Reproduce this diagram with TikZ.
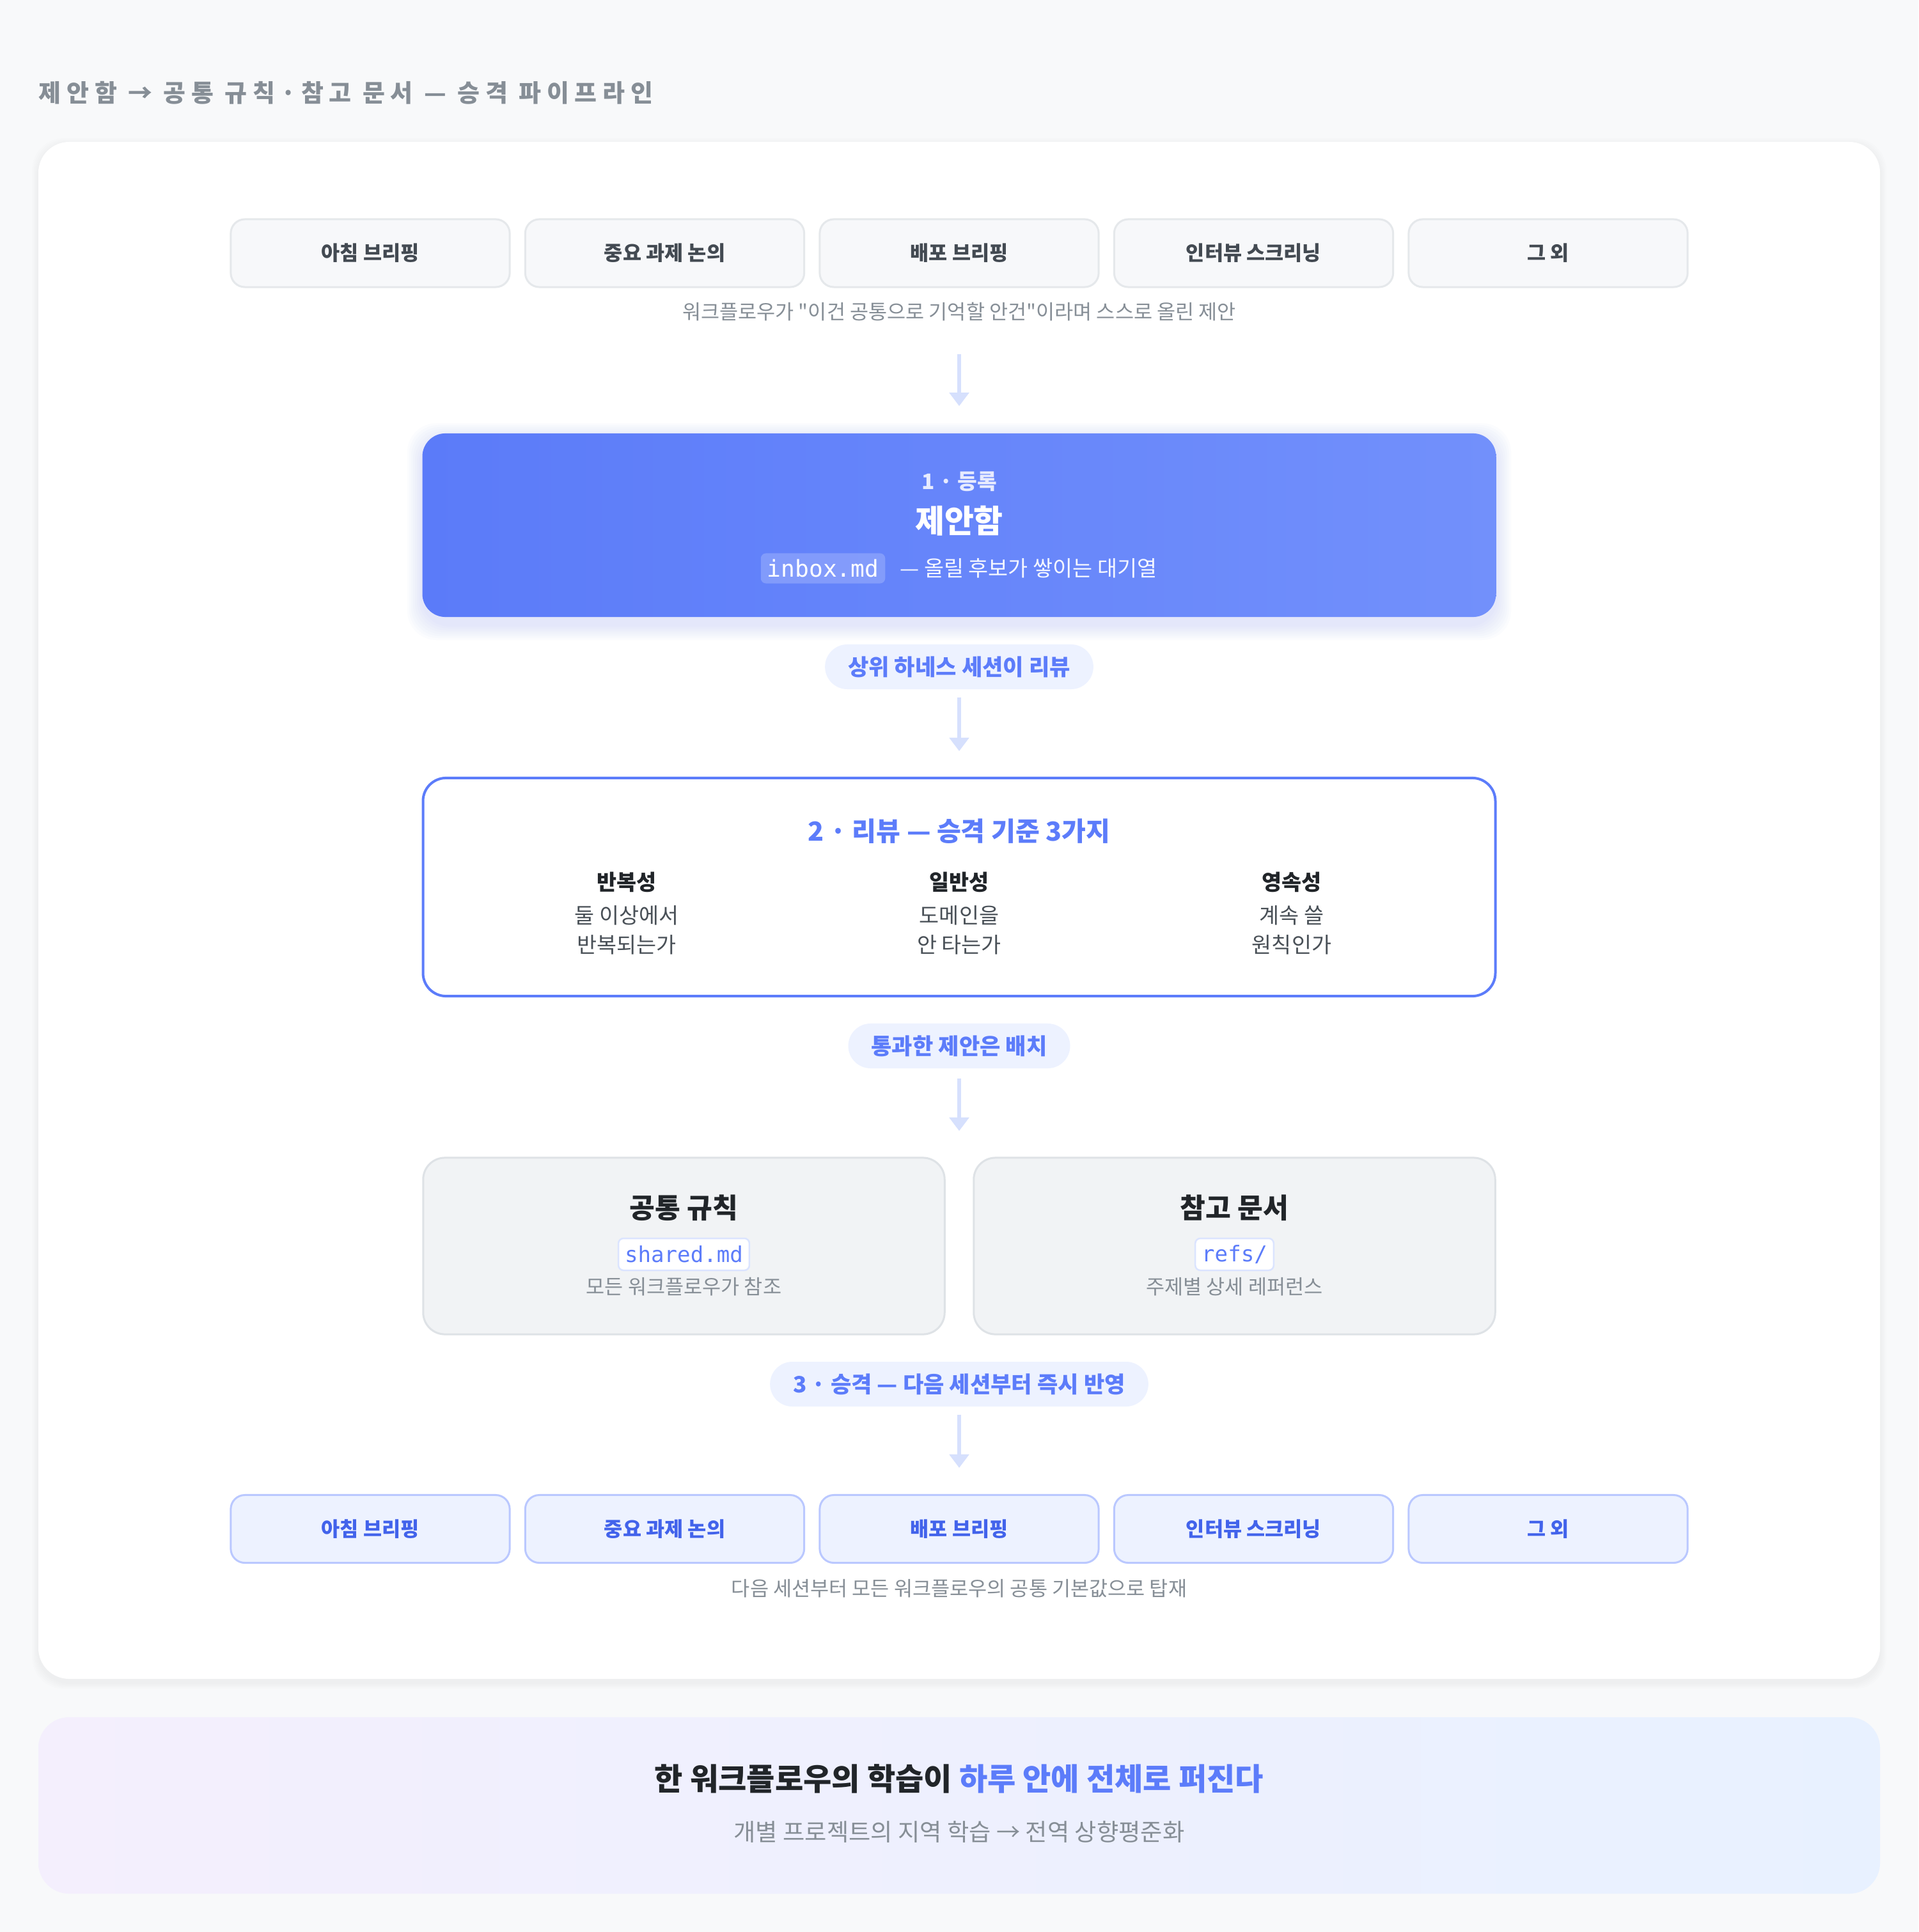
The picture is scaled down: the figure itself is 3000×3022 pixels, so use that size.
\documentclass[tikz,border=0pt]{standalone}
\usepackage{fontspec}
\setmainfont{Noto Sans CJK KR}[Ligatures=TeXOff]
\setmonofont{DejaVu Sans Mono}
\newfontfamily\headfont[LetterSpace=23]{Noto Sans CJK KR}
\usetikzlibrary{positioning,arrows.meta}

\definecolor{paper}{HTML}{F8F9FA}
\definecolor{ink}{HTML}{212529}
\definecolor{ink2}{HTML}{434A52}
\definecolor{body}{HTML}{495057}
\definecolor{mute}{HTML}{868E96}
\definecolor{lineg}{HTML}{E5E8EB}
\definecolor{boxg}{HTML}{F7F8FA}
\definecolor{cardg}{HTML}{F1F3F5}
\definecolor{cardl}{HTML}{DEE2E6}
\definecolor{accent}{HTML}{5C7CFA}
\definecolor{blueA}{HTML}{5B7BF9}
\definecolor{blueB}{HTML}{7290FB}
\definecolor{bluebg}{HTML}{EDF2FF}
\definecolor{bluel}{HTML}{BAC8FF}
\definecolor{blued}{HTML}{4263EB}
\definecolor{arrowc}{HTML}{D6E0FD}
\definecolor{chipl}{HTML}{DBE4FF}
\definecolor{lav}{HTML}{F4EFFD}
\definecolor{sky}{HTML}{E8F1FF}

\tikzstyle{every node}=[align=center]
\tikzstyle{srcbox}=[draw=lineg,line width=0.03cm,fill=boxg,rounded corners=0.22cm,minimum width=4.36cm,minimum height=1.06cm,text=ink2,font=\fontsize{9}{11}\selectfont\bfseries]
\tikzstyle{dstbox}=[srcbox,draw=bluel,fill=bluebg,text=blued]
\tikzstyle{note}=[text=mute,font=\fontsize{9}{11}\selectfont,minimum height=0.4cm,inner sep=0pt]
\tikzstyle{pill}=[fill=bluebg,text=accent,rounded corners=0.35cm,minimum height=0.7cm,inner xsep=0.36cm,inner ysep=0pt,font=\fontsize{10}{12}\selectfont\bfseries]
\tikzstyle{flow}=[draw=arrowc,line width=0.06cm,-{Triangle[width=0.3cm,length=0.21cm]}]
\tikzstyle{chip}=[fill=white,draw=chipl,line width=0.025cm,rounded corners=0.08cm,text=accent,minimum height=0.5cm,inner xsep=0.1cm,inner ysep=0pt,font=\ttfamily\fontsize{9.7}{11}\selectfont]
\tikzstyle{outbox}=[draw=cardl,line width=0.03cm,fill=cardg,rounded corners=0.34cm,minimum width=8.15cm,minimum height=2.76cm]

\begin{document}
\begin{tikzpicture}[x=0.01cm,y=-0.01cm,
	crit/.style={text=ink,font=\fontsize{9.6}{12}\selectfont\bfseries},
	critb/.style={text=body,font=\fontsize{9.6}{13.1}\selectfont}]
	\useasboundingbox (0,0) rectangle (3000,3022);
	\fill[paper] (0,0) rectangle (3000,3022);
	\foreach \k in {1,...,5}
		\fill[black,opacity=0.008,rounded corners=0.5cm] ({60-\k*2},{222+4-\k*2}) rectangle ({2940+\k*2},{2626+6+\k*2});
	\fill[white,rounded corners=0.48cm] (60,222) rectangle (2940,2626);

	\node[anchor=west,inner sep=0pt,text=mute,font=\headfont\fontsize{10.8}{13}\selectfont\bfseries] (title) at (60,145) {제안함 → 공통 규칙·참고 문서 — 승격 파이프라인};

	% workflows that raise proposals
	\foreach \n [count=\i] in {아침 브리핑,중요 과제 논의,배포 브리핑,인터뷰 스크리닝,그 외}
		\node[srcbox] (src\i) at ({1500+(\i-3)*460.5},396) {\n};
	\node[note] (topnote) at (1500,488) {워크플로우가 \symbol{34}이건 공통으로 기억할 안건\symbol{34}이라며 스스로 올린 제안};

	% 1 inbox
	\foreach \k in {1,...,8}
		\fill[accent,opacity=0.018,rounded corners=0.45cm] ({661-\k*3},{678+8-\k*3}) rectangle ({2339+\k*3},{965+12+\k*3});
	\node[minimum width=16.78cm,minimum height=2.87cm,rounded corners=0.36cm,left color=blueA,right color=blueB,draw=none] (reg) at (1500,821.5) {};
	\node[text=white!85!accent,font=\fontsize{9.5}{11}\selectfont\bfseries] (regno) at (1500,753) {1 · 등록};
	\node[text=white,font=\fontsize{14.2}{17}\selectfont\bfseries] (regname) at (1500,815) {제안함};
	\node[fill=white,fill opacity=0.2,text opacity=1,text=white,rounded corners=0.08cm,minimum height=0.47cm,inner xsep=0.1cm,inner ysep=0pt,font=\ttfamily\fontsize{10.3}{12}\selectfont] (inbox) at (1287,889) {inbox.md};
	\node[right=0.1cm of inbox,text=white!94!accent,font=\fontsize{9.6}{12}\selectfont] (inboxq) {— 올릴 후보가 쌓이는 대기열};

	\node[pill] (p1) at (1500,1043) {상위 하네스 세션이 리뷰};

	% 2 review
	\node[draw=accent,line width=0.04cm,fill=white,rounded corners=0.36cm,minimum width=16.76cm,minimum height=3.41cm] (rev) at (1500,1387.5) {};
	\node[text=accent,font=\fontsize{11.7}{14}\selectfont\bfseries] (revname) at (1500,1300) {2 · 리뷰 — 승격 기준 3가지};
	\foreach \h/\a/\b [count=\i] in {반복성/둘 이상에서/반복되는가,일반성/도메인을/안 타는가,영속성/계속 쓸/원칙인가}{
		\node[crit] (crit\i) at ({460+\i*520},1380) {\h};
		\node[critb] (critb\i) at ({460+\i*520},1455) {\a\\\b};
	}

	\node[pill] (p2) at (1500,1636) {통과한 제안은 배치};
	\coordinate (split) at (1500,1811);

	% 3 targets
	\node[outbox] (rules) at (1069.5,1949) {};
	\node[outbox] (refs) at (1930.5,1949) {};
	\node[text=ink,font=\fontsize{12.3}{15}\selectfont\bfseries] (rulesname) at (1069.5,1889) {공통 규칙};
	\node[chip] (rulesf) at (1069.5,1962) {shared.md};
	\node[note] (rulesd) at (1069.5,2013) {모든 워크플로우가 참조};
	\node[text=ink,font=\fontsize{12.3}{15}\selectfont\bfseries] (refsname) at (1930.5,1889) {참고 문서};
	\node[chip] (refsf) at (1930.5,1962) {refs/};
	\node[note] (refsd) at (1930.5,2013) {주제별 상세 레퍼런스};

	\node[pill] (p3) at (1500,2165) {3 · 승격 — 다음 세션부터 즉시 반영};

	\foreach \n [count=\i] in {아침 브리핑,중요 과제 논의,배포 브리핑,인터뷰 스크리닝,그 외}
		\node[dstbox] (dst\i) at ({1500+(\i-3)*460.5},2391.5) {\n};
	\node[note] (botnote) at (1500,2485) {다음 세션부터 모든 워크플로우의 공통 기본값으로 탑재};

	\draw[flow,shorten <=0.45cm,shorten >=0.42cm] (topnote.south) -- (reg.north);
	\draw[flow,shorten <=0.12cm,shorten >=0.40cm] (p1.south) -- (rev.north);
	\draw[flow,shorten <=0.15cm,shorten >=0.42cm] (p2.south) -- (split);
	\draw[flow,shorten <=0.12cm,shorten >=0.41cm] (p3.south) -- (dst3.north);

	% footer
	\shade[left color=lav,right color=sky,rounded corners=0.48cm] (60,2686) rectangle (2940,2962);
	\node[text=ink,font=\fontsize{13.7}{16}\selectfont\bfseries] (moral) at (1500,2782) {한 워크플로우의 학습이 \textcolor{accent}{하루 안에 전체로 퍼진다}};
	\node[text=mute,font=\fontsize{10.6}{13}\selectfont] (gist) at (1500,2865) {개별 프로젝트의 지역 학습 → 전역 상향평준화};
\end{tikzpicture}
\end{document}
